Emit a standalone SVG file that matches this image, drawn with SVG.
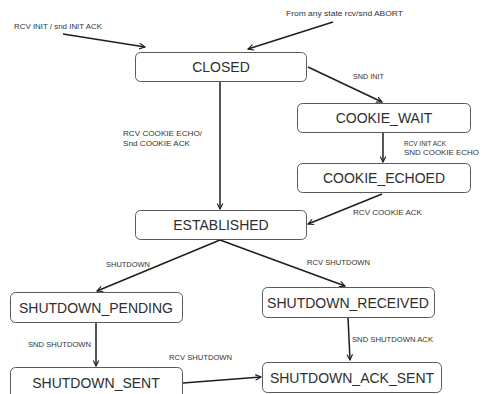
<svg xmlns="http://www.w3.org/2000/svg" width="487" height="394" viewBox="0 0 487 394">
  <style>
    .box { fill: #ffffff; stroke: #5a5a5a; stroke-width: 1; }
    .name { font-family: "Liberation Sans", Arial, sans-serif; font-size: 14px; fill: #2e2e2e; text-anchor: middle; }
    .lbl { font-family: "Liberation Sans", Arial, sans-serif; font-size: 7.5px; fill: #333333; }
    .edge { fill: none; stroke: #1e1e1e; stroke-width: 1.5; marker-end: url(#arr); }
  </style>
  <defs>
    <marker id="arr" viewBox="0 0 10 10" refX="9" refY="5" markerWidth="7" markerHeight="7" orient="auto" markerUnits="userSpaceOnUse">
      <path d="M1,1 L9,5 L1,9" fill="none" stroke="#1e1e1e" stroke-width="1.6"/>
    </marker>
  </defs>
  <rect width="487" height="394" fill="#ffffff"/>

  <g id="connectors">
    <path class="edge" d="M63,34 L145,47"/>
    <path class="edge" d="M333,22 L248,49"/>
    <path class="edge" d="M308,67 L382,102"/>
    <path class="edge" d="M220,81 L220,209"/>
    <path class="edge" d="M383,133 L383,162"/>
    <path class="edge" d="M382,194 L308,224"/>
    <path class="edge" d="M220,240 L97,291"/>
    <path class="edge" d="M220,240 L345,286"/>
    <path class="edge" d="M96,323 L96,366"/>
    <path class="edge" d="M348,317 L350,360"/>
    <path class="edge" d="M183,383 L261,377"/>
  </g>

  <g id="edge-labels">
    <text class="lbl" x="14" y="29" textLength="88" lengthAdjust="spacingAndGlyphs">RCV INIT / snd INIT ACK</text>
    <text class="lbl" x="286" y="16" textLength="117" lengthAdjust="spacingAndGlyphs">From any state rcv/snd ABORT</text>
    <text class="lbl" x="353" y="79" textLength="31" lengthAdjust="spacingAndGlyphs">SND INIT</text>
    <text class="lbl" x="123" y="136" textLength="79" lengthAdjust="spacingAndGlyphs">RCV COOKIE ECHO/</text>
    <text class="lbl" x="123" y="146" textLength="67" lengthAdjust="spacingAndGlyphs">Snd COOKIE ACK</text>
    <text class="lbl" x="404" y="146" textLength="42" lengthAdjust="spacingAndGlyphs">RCV INIT ACK</text>
    <text class="lbl" x="404" y="155" textLength="75" lengthAdjust="spacingAndGlyphs">SND COOKIE ECHO</text>
    <text class="lbl" x="353" y="215" textLength="69" lengthAdjust="spacingAndGlyphs">RCV COOKIE ACK</text>
    <text class="lbl" x="106" y="267" textLength="44" lengthAdjust="spacingAndGlyphs">SHUTDOWN</text>
    <text class="lbl" x="307" y="265" textLength="63" lengthAdjust="spacingAndGlyphs">RCV SHUTDOWN</text>
    <text class="lbl" x="28" y="347" textLength="63" lengthAdjust="spacingAndGlyphs">SND SHUTDOWN</text>
    <text class="lbl" x="169" y="360" textLength="63" lengthAdjust="spacingAndGlyphs">RCV SHUTDOWN</text>
    <text class="lbl" x="352" y="342" textLength="81" lengthAdjust="spacingAndGlyphs">SND SHUTDOWN ACK</text>
  </g>

  <g id="closed">
    <rect class="box" x="135.5" y="52.5" width="171" height="29" rx="5"/>
    <text class="name" x="221" y="72">CLOSED</text>
  </g>
  <g id="cookie-wait">
    <rect class="box" x="297.5" y="103.5" width="173" height="29" rx="5"/>
    <text class="name" x="384" y="123">COOKIE_WAIT</text>
  </g>
  <g id="cookie-echoed">
    <rect class="box" x="297.5" y="163.5" width="173" height="29" rx="5"/>
    <text class="name" x="384" y="183">COOKIE_ECHOED</text>
  </g>
  <g id="established">
    <rect class="box" x="135.5" y="210.5" width="171" height="29" rx="5"/>
    <text class="name" x="221" y="230">ESTABLISHED</text>
  </g>
  <g id="shutdown-pending">
    <rect class="box" x="10.5" y="292.5" width="172" height="30" rx="5"/>
    <text class="name" x="96" y="313">SHUTDOWN_PENDING</text>
  </g>
  <g id="shutdown-received">
    <rect class="box" x="262.5" y="287.5" width="172" height="30" rx="5"/>
    <text class="name" x="348" y="308">SHUTDOWN_RECEIVED</text>
  </g>
  <g id="shutdown-sent">
    <rect class="box" x="10.5" y="367.5" width="172" height="32" rx="5"/>
    <text class="name" x="96" y="388">SHUTDOWN_SENT</text>
  </g>
  <g id="shutdown-ack-sent">
    <rect class="box" x="262.5" y="362.5" width="179" height="30" rx="5"/>
    <text class="name" x="352" y="383">SHUTDOWN_ACK_SENT</text>
  </g>
</svg>
